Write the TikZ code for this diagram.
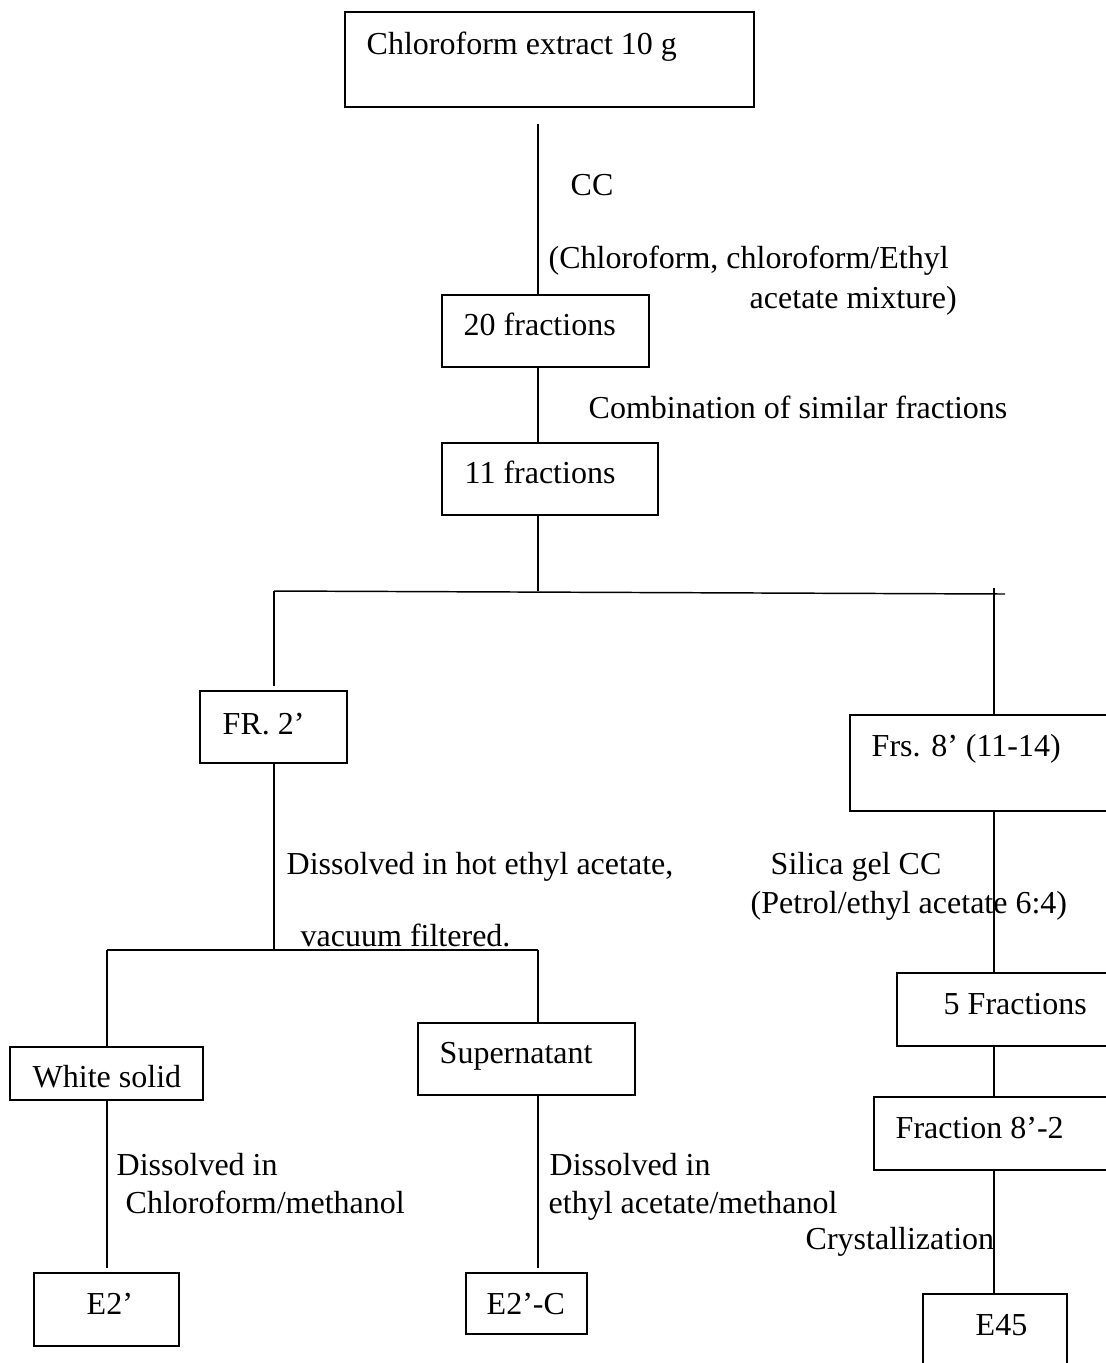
\documentclass[tikz,border=0pt]{standalone}
\usepackage{fontspec}
\setmainfont{Liberation Serif}
\usetikzlibrary{fit}
\begin{document}
\begin{tikzpicture}[x=0.375pt,y=-0.375pt,
  line width=0.55pt,
  box/.style={draw, line width=0.7pt, inner sep=0pt, rectangle},
  txt/.style={anchor=base west, inner sep=0pt, font=\fontsize{12}{14}\selectfont}]
\useasboundingbox (0,0) rectangle (1106,1363);
\clip (0,0) rectangle (1106,1363);
\fill[white] (0,0) rectangle (1106,1363);

% boxes
\node[box, fit={(345,12) (754,107)}] (top) {};
\node[box, fit={(442,295) (649,367)}] (f20) {};
\node[box, fit={(442,443) (658,515)}] (f11) {};
\node[box, fit={(200,691) (347,763)}] (fr2) {};
\node[box, fit={(850,715) (1120,811)}] (fr8) {};
\node[box, fit={(10,1047) (203,1100)}] (white) {};
\node[box, fit={(418,1023) (635,1095)}] (super) {};
\node[box, fit={(34,1273) (179,1346)}] (e2) {};
\node[box, fit={(466,1273) (587,1334)}] (e2c) {};
\node[box, fit={(897,973) (1120,1046)}] (f5) {};
\node[box, fit={(874,1097) (1120,1170)}] (f82) {};
\node[box, fit={(923,1294) (1067,1380)}] (e45) {};

% connectors
\coordinate (cA) at (538,124);
\draw (cA) -- (f20.north -| cA);
\coordinate (xA) at (538,0);
\draw (f20.south -| xA) -- (f11.north -| xA);
\coordinate (j1) at (538,591);
\draw (f11.south -| j1) -- (j1);
\coordinate (hl) at (274,591);
\coordinate (hr) at (1005,594);
\draw (hl) -- (hr);
\draw (hl) -- ([yshift=1.5pt]fr2.north -| hl);
\coordinate (tk) at (994,588);
\draw (tk) -- (fr8.north -| tk);
\coordinate (j2) at (274,950);
\draw (fr2.south -| j2) -- (j2);
\coordinate (hl2) at (107,950);
\coordinate (hr2) at (538,950);
\draw (hl2) -- (hr2);
\draw (hl2) -- (white.north -| hl2);
\draw (hr2) -- (super.north -| hr2);
\coordinate (b1) at (107,1268);
\draw (white.south -| b1) -- (b1);
\coordinate (b2) at (538,1268);
\draw (super.south -| b2) -- (b2);
\coordinate (xR) at (994,0);
\draw (fr8.south -| xR) -- (f5.north -| xR);
\draw (f5.south -| xR) -- (f82.north -| xR);
\draw (f82.south -| xR) -- (e45.north -| xR);

% box texts
\node[txt] (ttop) at (366,54) {Chloroform extract 10 g};
\node[txt] (t20) at (463,335) {20 fractions};
\node[txt] (t11) at (464,483) {11 fractions};
\node[txt] (tfr2) at (222,734) {FR. 2’};
\node[txt] (tfr8) at (871,756) {Frs. 8’ (11-14)};
\node[txt] (twhite) at (32,1087) {White solid};
\node[txt] (tsuper) at (439,1063) {Supernatant};
\node[txt] (te2) at (86,1314) {E2’};
\node[txt] (te2c) at (486,1314) {E2’-C};
\node[txt] (tf5) at (943,1014) {5 Fractions};
\node[txt] (tf82) at (895,1138) {Fraction 8’-2};
\node[txt] (te45) at (975,1335) {E45};

% connector labels
\node[txt] (lcc) at (570,195) {CC};
\node[txt] (lsolv1) at (548,268) {(Chloroform, chloroform/Ethyl};
\node[txt] (lsolv2) at (749,308) {acetate mixture)};
\node[txt] (lcomb) at (588,418) {Combination of similar fractions};
\node[txt] (ldiss) at (286,874) {Dissolved in hot ethyl acetate,};
\node[txt] (lvac) at (300,946) {vacuum filtered.};
\node[txt] (lsil) at (770,874) {Silica gel CC};
\node[txt] (lpet) at (750,913) {(Petrol/ethyl acetate 6:4)};
\node[txt] (ld1) at (116,1175) {Dissolved in};
\node[txt] (ld2) at (125,1213) {Chloroform/methanol};
\node[txt] (ld3) at (549,1175) {Dissolved in};
\node[txt] (ld4) at (548,1213) {ethyl acetate/methanol};
\node[txt] (lcry) at (805,1249) {Crystallization};
\end{tikzpicture}
\end{document}
